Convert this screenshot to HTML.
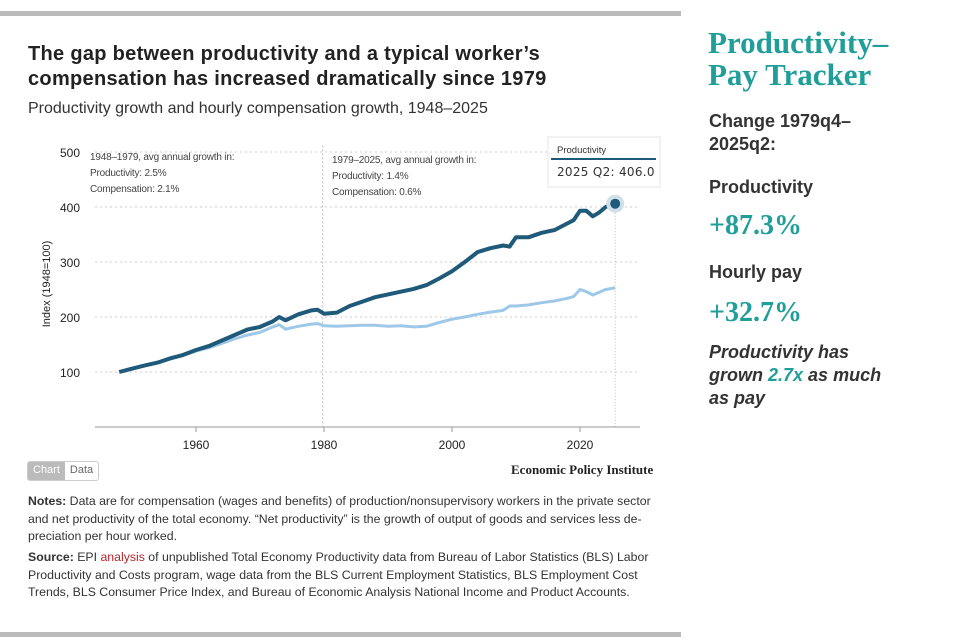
<!DOCTYPE html>
<html><head><meta charset="utf-8"><style>
body{margin:0;width:954px;height:643px;background:#fff;position:relative;overflow:hidden;font-family:"Liberation Sans",sans-serif;color:#222}
.a{position:absolute}
.bar{position:absolute;left:0;width:681px;height:5px;background:#bbb}
.side{font-family:"Liberation Sans",sans-serif;font-weight:bold;color:#333;font-size:18px;line-height:23px}
.serif{font-family:"Liberation Serif",serif;font-weight:bold;color:#1f9e9a}
.note{font-size:12.3px;line-height:17.5px;color:#333;white-space:nowrap;letter-spacing:0}
</style></head><body>
<div class="bar" style="top:11px"></div>
<div class="bar" style="top:632px"></div>
<div class="a" style="left:28px;top:42px;font-size:20px;font-weight:bold;line-height:25px;color:#222;letter-spacing:0.3px">The gap between productivity and a typical worker’s<br>compensation has increased dramatically since 1979</div>
<div class="a" style="left:28px;top:100px;font-size:16px;color:#333">Productivity growth and hourly compensation growth, 1948–2025</div>
<svg class="a" style="left:0;top:130px" width="680" height="330" id="chart"></svg>
<div class="a" style="left:27px;top:461px;height:18px;border:1px solid #ccc;border-radius:3px;font-size:11px;display:flex;overflow:hidden">
<span style="background:#bbb;color:#fff;padding:2px 5px">Chart</span><span style="color:#666;padding:2px 5px">Data</span></div>
<div class="a serif" style="left:511px;top:462px;font-size:13px;color:#222">Economic Policy Institute</div>
<div class="a note" style="left:28px;top:493px"><b>Notes:</b> Data are for compensation (wages and benefits) of production/nonsupervisory workers in the private sector<br>and net productivity of the total economy. “Net productivity” is the growth of output of goods and services less de-<br>preciation per hour worked.</div>
<div class="a note" style="left:28px;top:549px"><b>Source:</b> EPI <span style="color:#b3262b">analysis</span> of unpublished Total Economy Productivity data from Bureau of Labor Statistics (BLS) Labor<br>Productivity and Costs program, wage data from the BLS Current Employment Statistics, BLS Employment Cost<br>Trends, BLS Consumer Price Index, and Bureau of Economic Analysis National Income and Product Accounts.</div>

<div class="a serif" style="left:708px;top:27px;font-size:31px;line-height:32px">Productivity–<br>Pay Tracker</div>
<div class="a side" style="left:709px;top:110px">Change 1979q4–<br>2025q2:</div>
<div class="a side" style="left:709px;top:176px">Productivity</div>
<div class="a serif" style="left:709px;top:210px;font-size:28px">+87.3%</div>
<div class="a side" style="left:709px;top:261px">Hourly pay</div>
<div class="a serif" style="left:709px;top:297px;font-size:28px">+32.7%</div>
<div class="a side" style="left:709px;top:341px;font-style:italic">Productivity has<br>grown <span style="color:#1f9e9a">2.7x</span> as much<br>as pay</div>
<script>
const years=[1948,1950,1952,1954,1956,1958,1960,1962,1964,1966,1968,1970,1972,1973,1974,1976,1978,1979,1980,1982,1984,1986,1988,1990,1992,1994,1996,1998,2000,2002,2004,2006,2008,2009,2010,2012,2014,2016,2018,2019,2020,2021,2022,2023,2024,2025.5];
const productivity=[100,106,112,117,125,131,140,147,157,167,177,182,192,200,194,205,212,213,206,208,220,228,236,241,246,251,258,270,283,300,318,325,330,328,345,345,353,358,370,376,393,393,383,390,400,406];
const compensation=[100,106,112,117,124,130,138,144,152,160,167,172,182,186,178,183,187,188,184,183,184,185,185,183,184,182,183,190,196,200,205,209,212,220,220,222,226,229,234,237,250,246,240,245,250,253];
const yTicks=[100,200,300,400,500];
const xTicks=[1960,1980,2000,2020];
const svg=document.getElementById('chart');const NS='http://www.w3.org/2000/svg';
const top0=130;
const X=y=>196+(y-1960)*6.4;
const Y=v=>427-top0-v*0.55;
function mk(t,a,txt){const e=document.createElementNS(NS,t);for(const k in a)e.setAttribute(k,a[k]);if(txt!=null)e.textContent=txt;svg.appendChild(e);return e;}
yTicks.forEach(v=>{let g=mk('line',{x1:95,x2:640,y1:Y(v),y2:Y(v),stroke:'#ccc','stroke-dasharray':'2,3'});


let t=mk('text',{x:80,y:Y(v)+5,'text-anchor':'end','font-size':12,fill:'#222','font-family':'Liberation Sans'},v);

});
let ax=mk('line',{x1:95,x2:640,y1:Y(0),y2:Y(0),stroke:'#999'});


xTicks.forEach(v=>{mk('line',{x1:X(v),x2:X(v),y1:Y(0),y2:Y(0)+5,stroke:'#999'});
let t=mk('text',{x:X(v),y:Y(0)+22,'text-anchor':'middle','font-size':12,fill:'#222','font-family':'Liberation Sans'},v);

});
let yt=mk('text',{x:0,y:0,transform:`translate(50,${Y(260)}) rotate(-90)`,'text-anchor':'middle','font-size':11,fill:'#222','font-family':'Liberation Sans'},'Index (1948=100)');


let d1=mk('line',{x1:X(1979.8),x2:X(1979.8),y1:Y(512),y2:Y(0),stroke:'#bbb','stroke-dasharray':'2,2'});


mk('line',{x1:X(2025.5),x2:X(2025.5),y1:Y(406),y2:Y(0),stroke:'#bbb','stroke-dasharray':'1,2'});
const notes=[[90,['1948–1979, avg annual growth in:','Productivity: 2.5%','Compensation: 2.1%']],[332,['1979–2025, avg annual growth in:','Productivity: 1.4%','Compensation: 0.6%']]];
notes.forEach((n,i)=>n[1].forEach((s,j)=>{let t=mk('text',{x:n[0],y:30+j*16+(i?3:0),'font-size':10,fill:'#444','font-family':'Liberation Sans','letter-spacing':-0.2},s);

}));
function line(vals,col,w,name){const p=mk('path',{d:vals.map((v,i)=>(i?'L':'M')+X(years[i]).toFixed(1)+','+Y(v).toFixed(1)).join(''),fill:'none',stroke:col,'stroke-width':w,'stroke-linejoin':'round'});

}
line(compensation,'#9ec8e8',3,'compensation-line');
line(productivity,'#1f5a7a',4,'productivity-line');
const li=productivity.length-1;
mk('circle',{cx:X(years[li]),cy:Y(productivity[li]),r:9,fill:'#cfe0ea'});
let dot=mk('circle',{cx:X(years[li]),cy:Y(productivity[li]),r:5,fill:'#1f5a7a'});


let tb=mk('rect',{x:548,y:7,width:112,height:50,fill:'#fff',stroke:'#e4e4e4'});


mk('text',{x:557,y:23,'font-size':9.5,fill:'#333','font-family':'Liberation Sans'},'Productivity');
mk('line',{x1:551,x2:656,y1:29,y2:29,stroke:'#1f5a7a','stroke-width':2});
mk('text',{x:557,y:46,'font-size':12,fill:'#333','font-family':'DejaVu Sans','letter-spacing':0.3},'2025 Q2: '+productivity[li].toFixed(1));
</script>
</body></html>
